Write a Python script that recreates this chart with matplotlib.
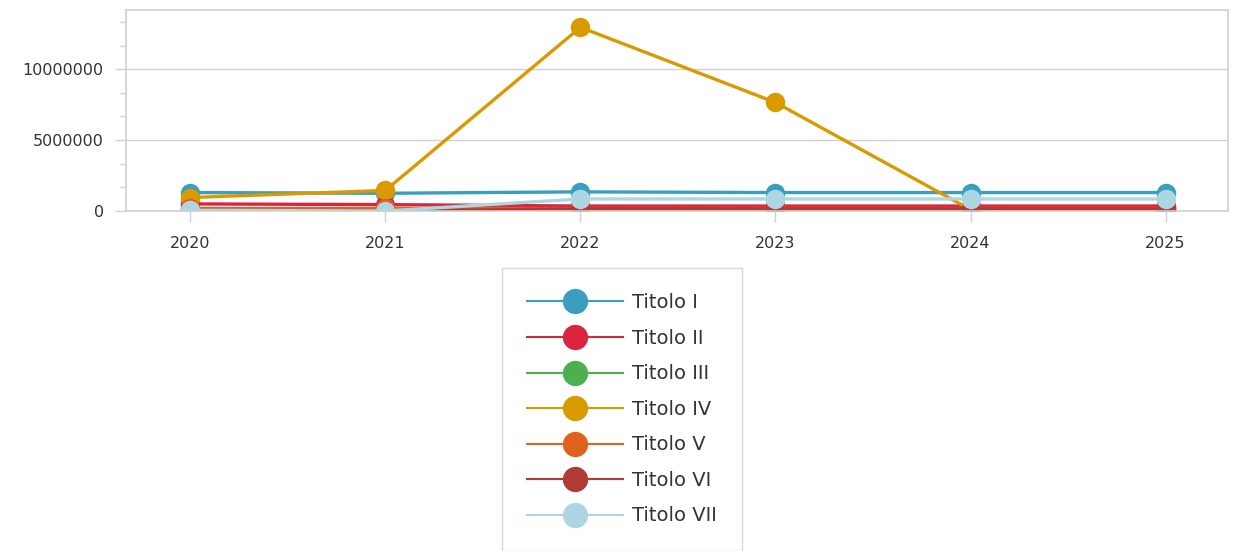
import numpy as np
import matplotlib.pyplot as plt
from matplotlib.ticker import MultipleLocator, FuncFormatter

years = [2020, 2021, 2022, 2023, 2024, 2025]
series_names = ['Titolo I', 'Titolo II', 'Titolo III', 'Titolo IV',
                'Titolo V', 'Titolo VI', 'Titolo VII']

titolo_i = [1300000, 1250000, 1350000, 1300000, 1300000, 1300000]
titolo_ii = [500000, 450000, 350000, 350000, 350000, 350000]
titolo_iii = [100000, 100000, 100000, 100000, 100000, 100000]
titolo_iv = [950000, 1450000, 12950000, 7650000, 100000, 100000]
titolo_v = [200000, 200000, 200000, 200000, 200000, 200000]
titolo_vi = [0, 0, 150000, 150000, 150000, 150000]
titolo_vii = [50000, 0, 850000, 850000, 850000, 850000]

all_series = [titolo_i, titolo_ii, titolo_iii, titolo_iv,
              titolo_v, titolo_vi, titolo_vii]
colors = ['#3a9fbf', '#dc2340', '#4caf50', '#d99a00',
          '#e0601d', '#b03a35', '#acd7e2']

plt.rcParams['font.family'] = ['DejaVu Sans']
grid_c = '#d0d0d0'
text_c = '#333333'

fig = plt.figure(figsize=(12.39, 5.51), dpi=100)
ax = fig.add_axes([126 / 1239, 1 - 211 / 551, (1228 - 126) / 1239, (211 - 10) / 551])

for name, vals, c in zip(series_names, all_series, colors):
    ax.plot(years, vals, color=c, lw=2.4, marker='o', markersize=14,
            markeredgewidth=0, label=name)

ax.set_xlim(2019.67, 2025.32)
ax.set_ylim(0, 14170000)
ax.set_xticks(years)
ax.yaxis.set_major_locator(MultipleLocator(5000000))
ax.yaxis.set_minor_locator(MultipleLocator(5000000 / 3))
ax.yaxis.set_major_formatter(FuncFormatter(lambda v, p: f'{int(v)}'))

ax.grid(True, axis='y', which='major', color=grid_c, lw=1)
ax.set_axisbelow(True)
for s in ax.spines.values():
    s.set_color(grid_c)
    s.set_linewidth(1.2)
ax.tick_params(axis='both', which='both', color=grid_c, labelcolor=text_c,
               labelsize=11.5, width=1)
ax.tick_params(axis='y', which='major', length=8, pad=8)
ax.tick_params(axis='y', which='minor', length=4)
ax.tick_params(axis='x', length=8, pad=10)

leg = fig.legend(loc='upper left', bbox_to_anchor=(502 / 1239, 1 - 268 / 551),
                 frameon=True, fancybox=False, fontsize=14, markerscale=1.3,
                 handlelength=4.9, labelspacing=0.85, borderpad=1.3,
                 handletextpad=0.5, borderaxespad=0)
leg.get_frame().set_edgecolor(grid_c)
leg.get_frame().set_linewidth(1)
for line in leg.get_lines():
    line.set_linewidth(1.5)
for t in leg.get_texts():
    t.set_color(text_c)

fig.savefig('out.png', dpi=100)
